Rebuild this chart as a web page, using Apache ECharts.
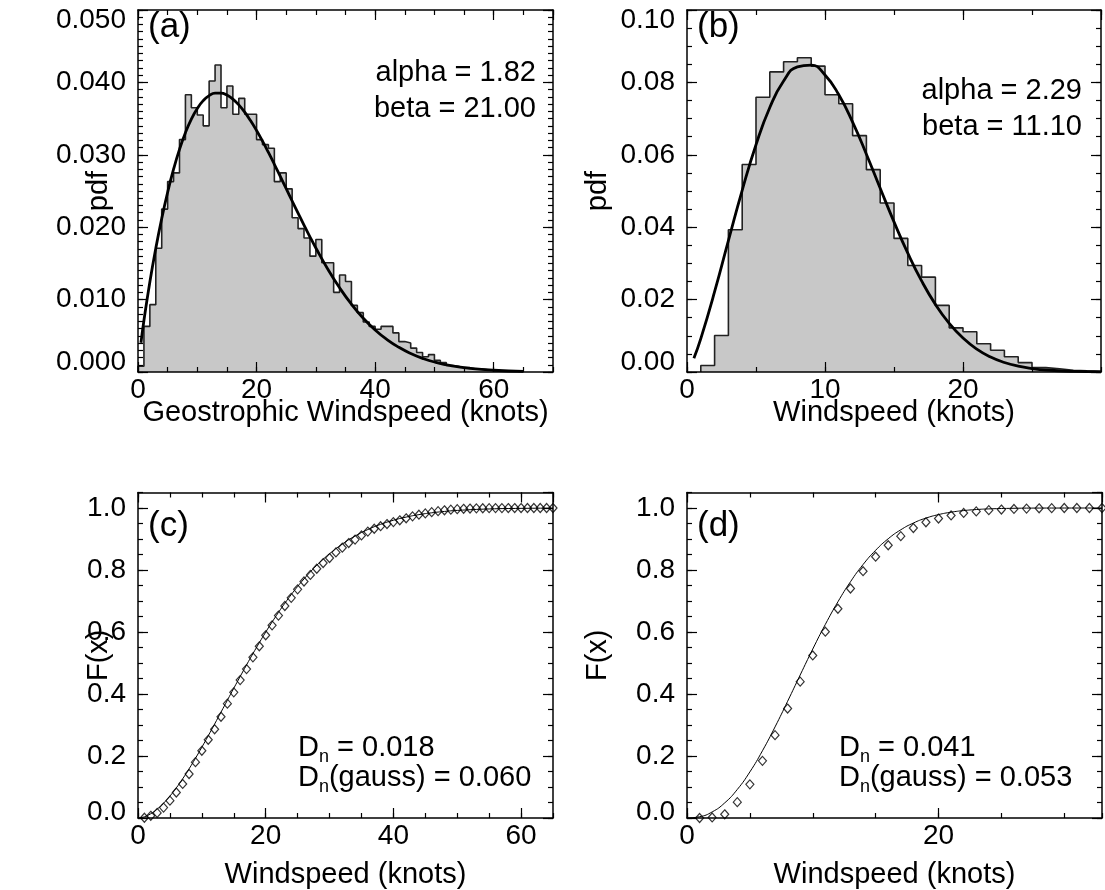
<!DOCTYPE html>
<html><head><meta charset="utf-8">
<script src="https://cdn.jsdelivr.net/npm/echarts@6/dist/echarts.min.js"></script>
<style>html,body{margin:0;padding:0;background:#fff}#c{width:1105px;height:890px}</style>
</head><body><div id="c"></div>
<script>
// ---------------- DATA ----------------
// (a) Geostrophic windspeed histogram, 1-knot bins starting at 0 knots
const histAFirstEdge = 0;
const histA = [0.0008,0.0063,0.0093,0.0171,0.0225,0.0263,0.0275,0.0321,0.0383,0.0365,
  0.0355,0.0340,0.0402,0.0424,0.0365,0.0395,0.0356,0.0378,0.0356,0.0356,
  0.0321,0.0314,0.0309,0.0263,0.0275,0.0253,0.0213,0.0198,0.0185,0.0160,
  0.0183,0.0151,0.0151,0.0110,0.0134,0.0125,0.0092,0.0082,0.0069,0.0063,
  0.0059,0.0063,0.0063,0.0054,0.0042,0.0040,0.0033,0.0027,0.0021,0.0024,
  0.0016,0.0013,0.0009,0.0008,0.0006,0.0006,0.0004,0.0004,0.0003,0.0002,
  0.0002,0.0001,0.0001,0.0001,0.0000];
const fitAX = [0.5,1,2,3,4,5,6,7,8,9,10,11,12,13,14,15,16,17,18,19,20,21,22,23,24,25,26,27,28,29,30,32,34,36,38,40,42,44,46,48,50,53,56,60,65];
const fitAY = [0.00404,0.00711,0.01243,0.01707,0.02119,0.02483,0.02801,0.03075,0.03305,0.03493,0.03640,0.03748,0.03817,0.03852,0.03853,0.03825,0.03769,0.03689,0.03589,0.03469,0.03335,0.03188,0.03032,0.02869,0.02701,0.02532,0.02362,0.02194,0.02028,0.01867,0.01713,0.01423,0.01164,0.00937,0.00743,0.00581,0.00448,0.00341,0.00256,0.00189,0.00138,0.00084,0.00050,0.00024,0.00009];

// (b) Windspeed histogram, 1-knot bins starting at 1 knot
const histBFirstEdge = 1;
const histB = [0.0018,0.0101,0.0393,0.0573,0.0759,0.0829,0.0857,0.0868,0.0845,0.0766,
  0.0741,0.0653,0.0559,0.0467,0.0369,0.0294,0.0262,0.0184,0.0122,0.0111,
  0.0078,0.0060,0.0042,0.0026,0.0012,0.0009,0.0005,0.0003,0.0002];
const fitBX = [0.5,1,2,3,4,5,6,7,8,9,10,11,12,13,14,15,16,17,18,19,20,21,22,23,24,25,26,28,30];
const fitBY = [0.00378,0.00921,0.02217,0.03629,0.05020,0.06277,0.07306,0.08038,0.08431,0.08478,0.08205,0.07658,0.06903,0.06017,0.05076,0.04147,0.03282,0.02515,0.01868,0.01345,0.00938,0.00633,0.00414,0.00263,0.00161,0.00096,0.00055,0.00017,0.00004];

// (c) CDF: fitted curve and empirical points
const cdfCX = [0,1,2,3,4,5,6,7,8,9,10,11,12,13,14,15,16,17,18,19,20,21,22,23,24,25,26,27,28,29,30,32,34,36,38,40,42,44,46,48,50,55,60,65];
const cdfCY = [0,0.0039,0.0138,0.0286,0.0477,0.0708,0.0972,0.1266,0.1586,0.1926,0.2283,0.2652,0.3031,0.3415,0.3800,0.4184,0.4564,0.4938,0.5302,0.5655,0.5995,0.6321,0.6632,0.6928,0.7206,0.7468,0.7712,0.7940,0.8152,0.8346,0.8525,0.8838,0.9096,0.9305,0.9473,0.9605,0.9707,0.9786,0.9845,0.9889,0.9922,0.9969,0.9988,0.9996];
const empCX = [1,2,3,4,5,6,7,8,9,10,11,12,13,14,15,16,17,18,19,20,21,22,23,24,25,26,27,28,29,30,31,32,33,34,35,36,37,38,39,40,41,42,43,44,45,46,47,48,49,50,51,52,53,54,55,56,57,58,59,60,61,62,63,64,65];
const empCY = [0.0008,0.0071,0.0164,0.0335,0.0560,0.0823,0.1098,0.1419,0.1802,0.2167,
  0.2522,0.2862,0.3264,0.3688,0.4053,0.4448,0.4804,0.5182,0.5538,0.5894,
  0.6215,0.6529,0.6838,0.7101,0.7376,0.7629,0.7842,0.8040,0.8225,0.8385,
  0.8568,0.8719,0.8870,0.8980,0.9114,0.9239,0.9331,0.9413,0.9482,0.9545,
  0.9604,0.9667,0.9730,0.9784,0.9826,0.9866,0.9899,0.9926,0.9947,0.9963,
  0.9975,0.9983,0.9988,0.9992,0.9995,0.9996,0.9997,0.9998,0.9998,0.9999,
  1.0,1.0,1.0,1.0,1.0];

// (d) CDF: fitted curve and empirical points
const cdfDX = [0,1,2,3,4,5,6,7,8,9,10,11,12,13,14,15,16,17,18,19,20,21,22,23,24,26,28,30,33];
const cdfDY = [0,0.0040,0.0196,0.0488,0.0921,0.1487,0.2169,0.2938,0.3765,0.4613,0.5450,0.6245,0.6974,0.7621,0.8176,0.8637,0.9008,0.9297,0.9515,0.9674,0.9787,0.9865,0.9917,0.9950,0.9971,0.9991,0.9998,0.9999,1.0];
const empDX = [1,2,3,4,5,6,7,8,9,10,11,12,13,14,15,16,17,18,19,20,21,22,23,24,25,26,27,28,29,30,31,32,33];
const empDY = [0.0,0.0018,0.0119,0.0512,0.1085,0.1844,0.2673,0.3530,0.4398,0.5243,
  0.6009,0.6750,0.7403,0.7962,0.8429,0.8798,0.9092,0.9354,0.9538,0.9660,
  0.9760,0.9840,0.9890,0.9930,0.9950,0.9970,0.9980,0.9990,0.9995,1.0,1.0,1.0,1.0];

// annotation texts
const panelLetters = ['(a)','(b)','(c)','(d)'];
const fitTextA = ['alpha = 1.82','beta = 21.00'];
const fitTextB = ['alpha = 2.29','beta = 11.10'];
const ksTextC = ['0.018','0.060'];
const ksTextD = ['0.041','0.053'];
const axisNames = {a:['Geostrophic Windspeed (knots)','pdf'], b:['Windspeed (knots)','pdf'], c:['Windspeed (knots)','F(x)'], d:['Windspeed (knots)','F(x)']};

// ---------------- LAYOUT / STYLE ----------------
const FONT = '"Liberation Sans", Arial, Helvetica, sans-serif';
const TICK_FS = 28, NAME_FS = 29, NOTE_FS = 29, LETTER_FS = 35;

const grids = [
  {left:138, top:10, width:415, height:362},
  {left:687, top:10, width:414, height:362},
  {left:138, top:492.5, width:415, height:325.5},
  {left:687, top:492.5, width:415, height:325.5}
];
const axCfg = [
  {x:{min:0,max:70,major:20,minor:5,dec:0,showMax:false,gap:26}, y:{min:0,max:0.05,major:0.01,minor:0.001,dec:3,showMax:true,lh:20,gap:25}, names:axisNames.a},
  {x:{min:0,max:30,major:10,minor:5,dec:0,showMax:false,gap:26}, y:{min:0,max:0.10,major:0.02,minor:0.005,dec:2,showMax:true,lh:20,gap:75}, names:axisNames.b},
  {x:{min:0,max:65,major:20,minor:5,dec:0,showMax:false,gap:42}, y:{min:0,max:1.05,major:0.2,minor:0.05,dec:1,showMax:false,lh:12,gap:25}, names:axisNames.c},
  {x:{min:0,max:33,major:20,minor:5,dec:0,showMax:false,gap:42}, y:{min:0,max:1.05,major:0.2,minor:0.05,dec:1,showMax:false,lh:12,gap:75}, names:axisNames.d}
];

function axesFor(dim, g, c, name) {
  const main = dim === 'x' ? 'bottom' : 'left';
  const opp = dim === 'x' ? 'top' : 'right';
  const base = {type:'value', gridIndex:g, min:c.min, max:c.max, z:10, splitLine:{show:false}};
  const line = {show:true, onZero:false, lineStyle:{color:'#000', width:1.5}};
  const noLine = {show:false, onZero:false};
  const tick = len => ({show:true, inside:true, length:len, lineStyle:{color:'#000', width:1.2}});
  const lbl = {
    show:true, color:'#000', fontSize:TICK_FS, fontFamily:FONT,
    margin: dim === 'x' ? 4 : 12,
    showMaxLabel: c.showMax, showMinLabel: true,
    formatter: v => Number(v).toFixed(c.dec)
  };
  if (dim === 'y') { lbl.lineHeight = c.lh; lbl.verticalAlignMinLabel = 'bottom'; lbl.verticalAlignMaxLabel = 'top'; }
  const nameOpts = {name:name, nameLocation:'middle', nameGap:c.gap, nameMoveOverlap:false,
    nameTextStyle:{color:'#000', fontSize:NAME_FS, fontFamily:FONT}};
  return [
    Object.assign({}, base, nameOpts, {position:main, interval:c.major, axisLine:line, axisTick:tick(10), axisLabel:lbl}),
    Object.assign({}, base, {position:main, interval:c.minor, axisLine:noLine, axisTick:tick(5), axisLabel:{show:false}}),
    Object.assign({}, base, {position:opp, interval:c.major, axisLine:line, axisTick:tick(10), axisLabel:{show:false}}),
    Object.assign({}, base, {position:opp, interval:c.minor, axisLine:noLine, axisTick:tick(5), axisLabel:{show:false}})
  ];
}

const xAxes = [], yAxes = [];
axCfg.forEach((c, g) => {
  xAxes.push(...axesFor('x', g, c.x, c.names[0]));
  yAxes.push(...axesFor('y', g, c.y, c.names[1]));
});

function histSteps(firstEdge, vals) {
  const d = [[firstEdge, 0]];
  vals.forEach((v, i) => d.push([firstEdge + i, v]));
  d.push([firstEdge + vals.length, vals[vals.length - 1]]);
  d.push([firstEdge + vals.length, 0]);
  return d;
}
const zip = (xs, ys) => xs.map((x, i) => [x, ys[i]]);

function histSeries(g, firstEdge, vals) {
  return {type:'line', xAxisIndex:4*g, yAxisIndex:4*g, data:histSteps(firstEdge, vals), step:'end',
    symbol:'none', lineStyle:{color:'#222', width:1.6}, areaStyle:{color:'#c8c8c8', opacity:1, origin:'start'}, z:2};
}
function fitSeries(g, xs, ys, w) {
  return {type:'line', xAxisIndex:4*g, yAxisIndex:4*g, data:zip(xs, ys), smooth:true,
    symbol:'none', lineStyle:{color:'#000', width:w}, z:3};
}
function empSeries(g, xs, ys) {
  return {type:'scatter', xAxisIndex:4*g, yAxisIndex:4*g, data:zip(xs, ys), symbol:'diamond', symbolSize:[8,9],
    itemStyle:{color:'rgba(0,0,0,0)', borderColor:'#000', borderWidth:1.2}, z:4};
}

const series = [
  histSeries(0, histAFirstEdge, histA), fitSeries(0, fitAX, fitAY, 2.8),
  histSeries(1, histBFirstEdge, histB), fitSeries(1, fitBX, fitBY, 2.8),
  fitSeries(2, cdfCX, cdfCY, 1), empSeries(2, empCX, empCY),
  fitSeries(3, cdfDX, cdfDY, 1), empSeries(3, empDX, empDY)
];

function txt(s, x, y, fs, align) {
  return {type:'text', x:x, y:y, z:100, style:{text:s, fill:'#000', fontSize:fs, fontFamily:FONT, align:align||'left', verticalAlign:'middle'}};
}
function ksTxt(mid, val, x, y) {
  return {type:'text', x:x, y:y, z:100, style:{
    text:'{m|D}{s|n}{m|' + mid + ' = ' + val + '}', fill:'#000', fontFamily:FONT, verticalAlign:'top', align:'left',
    rich:{ m:{fontSize:NOTE_FS, lineHeight:29, verticalAlign:'top', fontFamily:FONT, fill:'#000'},
           s:{fontSize:18, lineHeight:33, verticalAlign:'bottom', fontFamily:FONT, fill:'#000'} }
  }};
}

const graphic = [
  txt(panelLetters[0], 148, 27, LETTER_FS), txt(panelLetters[1], 697, 27, LETTER_FS),
  txt(panelLetters[2], 148, 526, LETTER_FS), txt(panelLetters[3], 697, 526, LETTER_FS),
  txt(fitTextA[0], 536, 73, NOTE_FS, 'right'), txt(fitTextA[1], 536, 109, NOTE_FS, 'right'),
  txt(fitTextB[0], 1082, 91, NOTE_FS, 'right'), txt(fitTextB[1], 1082, 127, NOTE_FS, 'right'),
  ksTxt('', ksTextC[0], 298, 733), ksTxt('(gauss)', ksTextC[1], 298, 763),
  ksTxt('', ksTextD[0], 839, 733), ksTxt('(gauss)', ksTextD[1], 839, 763)
];

const chart = echarts.init(document.getElementById('c'), null, {renderer:'canvas'});
chart.setOption({
  animation:false,
  backgroundColor:'#fff',
  textStyle:{fontFamily:FONT},
  grid:grids,
  xAxis:xAxes,
  yAxis:yAxes,
  series:series,
  graphic:graphic
});
</script></body></html>
